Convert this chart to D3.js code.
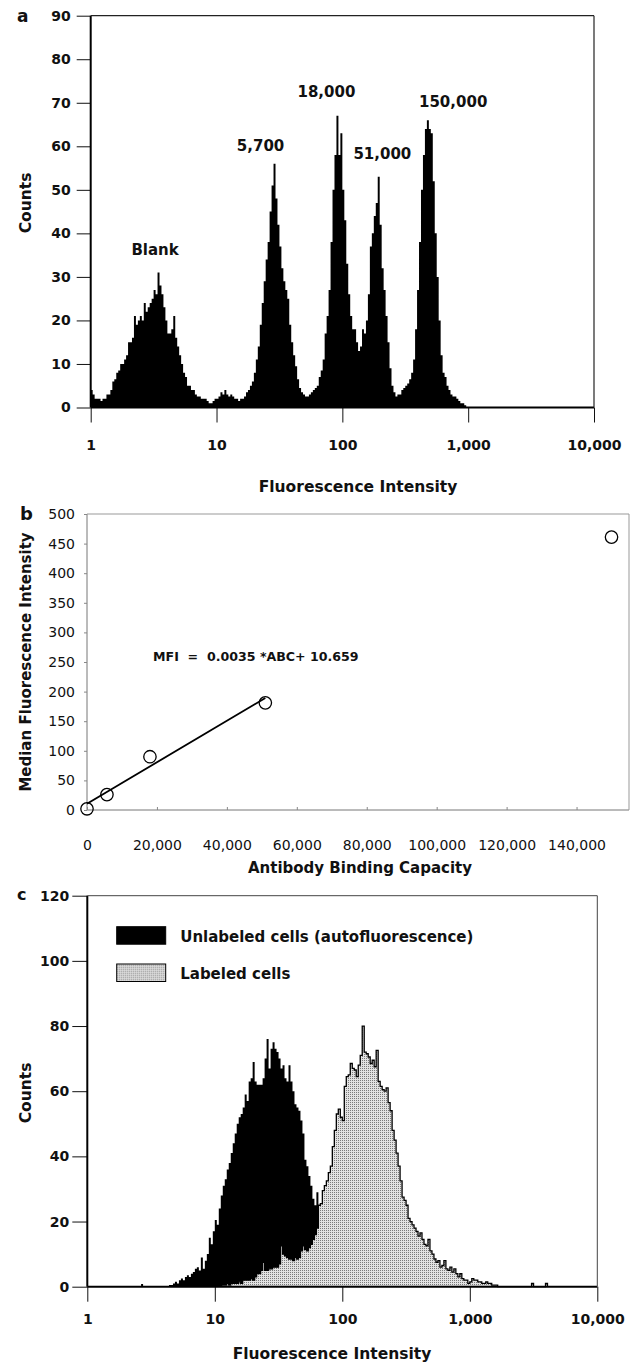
<!DOCTYPE html>
<html>
<head>
<meta charset="utf-8">
<script src="https://cdnjs.cloudflare.com/ajax/libs/d3/7.8.5/d3.min.js"></script>
<style>
body { margin: 0; background: #fff; }
svg { display: block; }
text { font-family: "DejaVu Sans", sans-serif; fill: #111; }
</style>
</head>
<body>
<svg width="639" height="1363"></svg>
<script>
// histogram channels: 64 per decade, channel i starts at 10^(i/64)
var channelsPerDecade = 64;

// panel a - calibration beads, counts per channel starting at channel 0
var beadCounts = [
  4, 3, 2, 2, 2, 1.5, 2, 2, 3, 3,
  4, 6, 6.5, 8, 8.5, 10, 10, 11, 12, 15,
  15, 16, 21, 19, 20, 21, 20, 24, 22, 23,
  24, 25, 27, 26, 31, 28, 26, 23, 20, 17,
  17, 18, 21, 16, 14, 12, 10, 8, 7, 5,
  5, 4, 4, 3, 2.5, 2.5, 2, 2, 2, 1.5,
  1, 1, 1.5, 2, 2, 2.5, 3.5, 3, 4, 3,
  2.5, 3, 2.5, 2, 2, 1.5, 2, 2, 2.5, 3.5,
  4, 5, 6, 8, 11, 14, 19, 24, 29, 34,
  38, 45, 51, 56, 48, 42, 37, 32, 29, 27,
  25, 19, 15, 12, 9.5, 6.5, 4.5, 3.5, 3, 2.5,
  2.5, 3, 3.5, 4, 4.5, 5, 7, 8.5, 11, 17,
  21, 27, 38, 50, 58, 67, 58, 63, 50, 43,
  33, 26, 21, 18, 18, 15, 13, 14, 18, 17,
  20, 26, 37, 40, 44, 47, 53, 42, 32, 27,
  21, 15, 9, 5, 3.5, 2.5, 3, 3, 4, 4.5,
  5, 5.5, 6.5, 8, 11, 18, 27, 38, 50, 58,
  64, 66, 64, 63, 52, 40, 30, 20, 12, 8,
  7, 5, 4, 3, 2.5, 2.5, 2, 1.5, 1, 1,
  0.5
];
var beadLabels = ['Blank', '5,700', '18,000', '51,000', '150,000'];
var beadLabelIntensity = [3.25, 22.4, 74.7, 208, 760];
var beadLabelCount = [35, 59, 71.3, 57, 69];
var countTicksA = [0, 10, 20, 30, 40, 50, 60, 70, 80, 90];
var intensityTicks = [1, 10, 100, 1000, 10000];

// panel b - calibration curve
var abc = [0, 5700, 18000, 51000, 150000];
var mfi = [2, 26, 90, 181, 461];
var fitSlope = 0.0035;
var fitIntercept = 10.659;
var fitRange = [0, 51000];
var abcTicks = [0, 20000, 40000, 60000, 80000, 100000, 120000, 140000];
var mfiTicks = [0, 50, 100, 150, 200, 250, 300, 350, 400, 450, 500];

// panel c - cells, counts per channel from the start channel
var unlabeledStart = 27;
var unlabeledCounts = [
  0.8, 0, 0, 0, 0, 0, 0, 0, 0, 0, 0, 0, 0, 0,
  0.5, 0.5, 1, 1.5, 1, 2, 2.5, 2, 3, 3.5,
  3, 4, 4.5, 5.5, 6, 5, 9, 5.5, 8, 10,
  15, 13, 17, 20.5, 19, 24, 28, 31, 33, 36,
  38, 41, 44, 47, 50, 52, 53, 55, 59, 57,
  63, 64, 69, 63, 62, 62, 62, 64, 70, 76,
  67, 73, 75, 73, 72, 70, 67, 68, 64, 63,
  68, 63, 60, 56, 55, 54, 51, 47, 39, 37,
  34, 31, 27, 25, 29, 22, 19, 15, 11, 8,
  6, 4, 3, 2, 1
];
var labeledStart = 68;
var labeledCounts = [
  0.5, 0.5, 1, 0.5, 1, 1, 1, 1, 1.5, 1,
  2, 2, 2, 2, 2.5, 2, 3, 4, 4, 5,
  7.5, 5, 5, 5.5, 5.5, 6, 6, 6, 7, 12.5,
  10, 9.5, 9, 8.5, 8.5, 8, 9, 8.5, 9, 11,
  12.5, 11.5, 11, 12, 13, 14.5, 16, 18, 25, 25.5,
  29.5, 31, 32.5, 35, 37, 43, 48, 53, 54.5, 52,
  51, 61.5, 64.5, 65, 68.5, 67, 66.5, 64.5, 68, 71,
  80, 72, 71.5, 70.5, 68.5, 69.5, 67.5, 72.5, 63, 61.5,
  60.5, 60, 61, 56.5, 54, 48, 45, 41, 37, 32.5,
  27.5, 26.5, 25, 21, 20, 19, 18, 17, 15.5, 16.5,
  14.5, 13, 12.5, 14.5, 11, 10, 8.5, 7.5, 8, 6,
  6.5, 8, 5.5, 5, 6, 4.5, 5.5, 4, 3, 4,
  2.5, 2, 2, 1, 1.5, 2.5, 2, 2, 1.5, 1.5,
  1, 1, 1.5, 1, 1, 0.5, 0.5, 0.5,
  0, 0, 0, 0, 0, 0, 0, 0, 0, 0, 0, 0, 0, 0, 0, 0, 0,
  1, 0, 0, 0, 0, 0, 0, 1
];
var countTicksC = [0, 20, 40, 60, 80, 100, 120];
var legendLabels = ['Unlabeled cells (autofluorescence)', 'Labeled cells'];

var svg = d3.select('svg');

// plot boxes (pixels)
var boxA = {left: 90.7, top: 15.7, right: 594, bottom: 407.5};
var boxB = {left: 87, top: 514, right: 629, bottom: 810};
var boxC = {left: 87.3, top: 895.7, right: 597.3, bottom: 1286.7};

var defs = svg.append('defs');
var stipple = defs.append('pattern')
  .attr('id', 'stipple')
  .attr('width', 2).attr('height', 2)
  .attr('patternUnits', 'userSpaceOnUse');
stipple.append('rect').attr('width', 2).attr('height', 2).attr('fill', '#e2e2e2');
stipple.append('rect').attr('width', 1).attr('height', 1).attr('fill', '#7a7a7a');

function channelValue(ch) {
  return Math.pow(10, ch / channelsPerDecade);
}

// turns a start channel + counts into step points (last point closes the final bin)
function histPoints(start, counts) {
  var pts = counts.map(function(c, k) { return {ch: start + k, n: c}; });
  pts.push({ch: start + counts.length, n: 0});
  return pts;
}

function styleAxis(g, size, weight) {
  g.select('.domain').remove();
  g.selectAll('.tick line').attr('stroke', '#111').attr('stroke-width', 1);
  g.selectAll('.tick text')
    .attr('font-family', '"DejaVu Sans", sans-serif')
    .attr('font-size', size)
    .attr('font-weight', weight)
    .attr('fill', '#111');
}

function frame(box, color, widths) {
  // widths: [left, bottom, top, right]
  svg.append('line').attr('x1', box.left).attr('x2', box.left).attr('y1', box.top).attr('y2', box.bottom)
    .attr('stroke', color[0]).attr('stroke-width', widths[0]);
  svg.append('line').attr('x1', box.left).attr('x2', box.right).attr('y1', box.bottom).attr('y2', box.bottom)
    .attr('stroke', color[0]).attr('stroke-width', widths[1]);
  svg.append('line').attr('x1', box.left).attr('x2', box.right).attr('y1', box.top).attr('y2', box.top)
    .attr('stroke', color[1]).attr('stroke-width', widths[2]);
  svg.append('line').attr('x1', box.right).attr('x2', box.right).attr('y1', box.top).attr('y2', box.bottom)
    .attr('stroke', color[1]).attr('stroke-width', widths[3]);
}

function boldText(x, y, txt, size, anchor) {
  return svg.append('text')
    .attr('x', x).attr('y', y)
    .attr('font-size', size)
    .attr('font-weight', 'bold')
    .attr('text-anchor', anchor || 'middle')
    .text(txt);
}

function vTitle(x, y, txt, size) {
  return svg.append('text')
    .attr('transform', 'translate(' + x + ',' + y + ') rotate(-90)')
    .attr('font-size', size)
    .attr('font-weight', 'bold')
    .attr('text-anchor', 'middle')
    .text(txt);
}

/* ---------- panel a ---------- */
var xA = d3.scaleLog().domain([1, 10000]).range([boxA.left, boxA.right]);
var yA = d3.scaleLinear().domain([0, 90]).range([boxA.bottom, boxA.top]);

var areaA = d3.area()
  .curve(d3.curveStepAfter)
  .x(function(d) { return xA(channelValue(d.ch)); })
  .y0(yA(0))
  .y1(function(d) { return yA(d.n); });

svg.append('path')
  .datum(histPoints(0, beadCounts))
  .attr('d', areaA)
  .attr('fill', '#000');

svg.append('g')
  .attr('transform', 'translate(' + boxA.left + ',0)')
  .call(d3.axisLeft(yA).tickValues(countTicksA).tickSize(14).tickPadding(6).tickFormat(d3.format('d')))
  .call(styleAxis, 14, 'bold');

svg.append('g')
  .attr('transform', 'translate(0,' + boxA.bottom + ')')
  .call(d3.axisBottom(xA).tickValues(intensityTicks).tickSize(15).tickPadding(18).tickFormat(d3.format(',')))
  .call(styleAxis, 14, 'bold');

frame(boxA, ['#000', '#222'], [2, 2, 1.2, 1.2]);

beadLabels.forEach(function(lbl, k) {
  boldText(xA(beadLabelIntensity[k]), yA(beadLabelCount[k]), lbl, 15);
});

boldText(17, 22, 'a', 17, 'start');
vTitle(31, 203, 'Counts', 15.5);
boldText(358, 492, 'Fluorescence Intensity', 15.5);

/* ---------- panel b ---------- */
var xB = d3.scaleLinear().domain([0, 155000]).range([boxB.left, boxB.right]);
var yB = d3.scaleLinear().domain([0, 500]).range([boxB.bottom, boxB.top]);

frame(boxB, ['#777', '#999'], [1, 1, 1, 1]);

var gxB = svg.append('g')
  .attr('transform', 'translate(0,' + boxB.bottom + ')')
  .call(d3.axisBottom(xB).tickValues(abcTicks).tickSize(-3).tickPadding(30).tickFormat(d3.format(',')));
styleAxis(gxB, 14, 'normal');
gxB.selectAll('.tick line').attr('stroke', '#888');
gxB.selectAll('.tick text').attr('font-family', '"Liberation Sans", Arial, sans-serif');

var gyB = svg.append('g')
  .attr('transform', 'translate(' + boxB.left + ',0)')
  .call(d3.axisLeft(yB).tickValues(mfiTicks).tickSize(3).tickPadding(9));
styleAxis(gyB, 14, 'normal');
gyB.selectAll('.tick line').attr('stroke', '#888');
gyB.selectAll('.tick text').attr('font-family', '"Liberation Sans", Arial, sans-serif');

svg.append('path')
  .datum(fitRange)
  .attr('d', d3.line()
    .x(function(d) { return xB(d); })
    .y(function(d) { return yB(fitSlope * d + fitIntercept); }))
  .attr('fill', 'none')
  .attr('stroke', '#000')
  .attr('stroke-width', 1.8);

svg.selectAll('circle.pt')
  .data(abc)
  .enter().append('circle')
  .attr('class', 'pt')
  .attr('cx', function(d) { return xB(d); })
  .attr('cy', function(d, k) { return yB(mfi[k]); })
  .attr('r', 6.2)
  .attr('fill', 'none')
  .attr('stroke', '#000')
  .attr('stroke-width', 1.3);

svg.append('text')
  .attr('x', 153).attr('y', 661)
  .attr('font-size', 12.6)
  .attr('font-weight', 'bold')
  .attr('xml:space', 'preserve')
  .style('white-space', 'pre')
  .text('MFI  =  0.0035 *ABC+ 10.659');

boldText(20, 520, 'b', 18, 'start');
vTitle(31, 662, 'Median Fluorescence Intensity', 15);
boldText(360, 873, 'Antibody Binding Capacity', 15);

/* ---------- panel c ---------- */
var xC = d3.scaleLog().domain([1, 10000]).range([boxC.left, boxC.right]);
var yC = d3.scaleLinear().domain([0, 120]).range([boxC.bottom, boxC.top]);

var areaC = d3.area()
  .curve(d3.curveStepAfter)
  .x(function(d) { return xC(channelValue(d.ch)); })
  .y0(yC(0))
  .y1(function(d) { return yC(d.n); });

var lineC = d3.line()
  .curve(d3.curveStepAfter)
  .x(function(d) { return xC(channelValue(d.ch)); })
  .y(function(d) { return yC(d.n); });

svg.append('path')
  .datum(histPoints(unlabeledStart, unlabeledCounts))
  .attr('d', areaC)
  .attr('fill', '#000');

var labeledPts = histPoints(labeledStart, labeledCounts);
svg.append('path')
  .datum(labeledPts)
  .attr('d', areaC)
  .attr('fill', 'url(#stipple)');
svg.append('path')
  .datum(labeledPts)
  .attr('d', lineC)
  .attr('fill', 'none')
  .attr('stroke', '#000')
  .attr('stroke-width', 1.3);

svg.append('g')
  .attr('transform', 'translate(' + boxC.left + ',0)')
  .call(d3.axisLeft(yC).tickValues(countTicksC).tickSize(15).tickPadding(3).tickFormat(d3.format('d')))
  .call(styleAxis, 14, 'bold');

svg.append('g')
  .attr('transform', 'translate(0,' + boxC.bottom + ')')
  .call(d3.axisBottom(xC).tickValues(intensityTicks).tickSize(15).tickPadding(12).tickFormat(d3.format(',')))
  .call(styleAxis, 14, 'bold');

frame(boxC, ['#000', '#444'], [2, 2, 1, 1]);

// legend
var legend = svg.append('g').attr('transform', 'translate(116.7,926.7)');
legendLabels.forEach(function(lbl, k) {
  legend.append('rect')
    .attr('x', 0).attr('y', k * 37.3)
    .attr('width', 49).attr('height', 17.5)
    .attr('fill', k === 0 ? '#000' : 'url(#stipple)')
    .attr('stroke', '#000')
    .attr('stroke-width', 1);
  legend.append('text')
    .attr('x', 63.5).attr('y', k * 37.3 + 15)
    .attr('font-size', 15)
    .attr('font-weight', 'bold')
    .text(lbl);
});

boldText(17, 900, 'c', 16, 'start');
vTitle(31, 1093, 'Counts', 15.5);
boldText(332, 1359, 'Fluorescence Intensity', 15.5);
</script>
</body>
</html>
